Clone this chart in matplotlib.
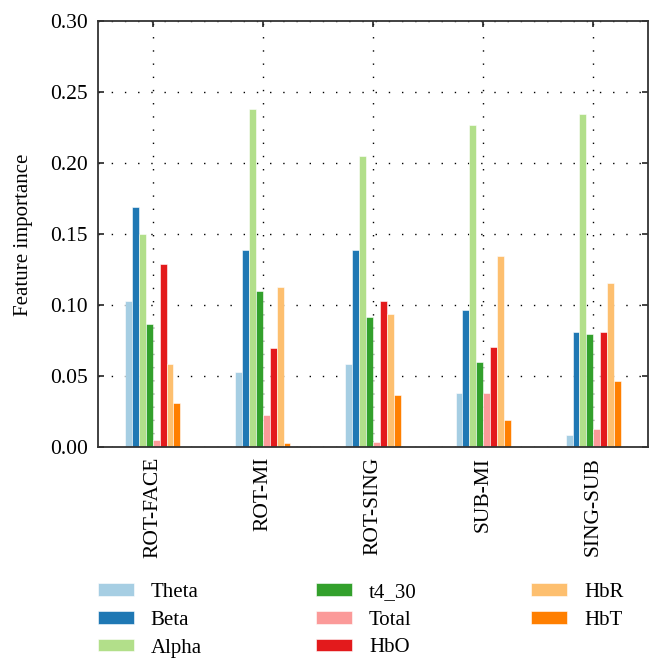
import numpy as np
import pandas as pd
import matplotlib
matplotlib.use("Agg")
import matplotlib.pyplot as plt

# Data
comparisons = ["ROT-FACE", "ROT-MI", "ROT-SING", "SUB-MI", "SING-SUB"]
features = ["Theta", "Beta", "Alpha", "t4_30", "Total", "HbO", "HbR", "HbT"]

theta = [0.103, 0.053, 0.059, 0.038, 0.009]
beta = [0.169, 0.139, 0.139, 0.097, 0.081]
alpha = [0.150, 0.238, 0.205, 0.227, 0.235]
t4_30 = [0.087, 0.110, 0.092, 0.060, 0.080]
total = [0.005, 0.023, 0.004, 0.038, 0.013]
hbo = [0.129, 0.070, 0.103, 0.071, 0.081]
hbr = [0.059, 0.113, 0.094, 0.135, 0.116]
hbt = [0.031, 0.003, 0.037, 0.019, 0.047]

colors = ["#a6cee3", "#1f78b4", "#b2df8a", "#33a02c",
          "#fb9a99", "#e31a1c", "#fdbf6f", "#ff7f00"]

df = pd.DataFrame({
    "Theta": theta, "Beta": beta, "Alpha": alpha, "t4_30": t4_30,
    "Total": total, "HbO": hbo, "HbR": hbr, "HbT": hbt,
}, index=comparisons)

plt.rcParams["font.family"] = ["Liberation Serif", "DejaVu Serif"]

fig = plt.figure(figsize=(6.63, 6.71), dpi=100)
ax = fig.add_axes([0.1474, 0.3334, 0.8304, 0.6346])

n = len(features)
width = 0.5 / n
x = np.arange(len(comparisons))
for i, name in enumerate(features):
    ax.bar(x - 0.25 + width * (i + 0.5), df[name], width,
           color=colors[i], edgecolor="white", linewidth=0.4, label=name)

ax.set_xlim(-0.5, 4.5)
ax.set_ylim(0, 0.30)
yt = np.arange(0, 0.31, 0.05)
ax.set_yticks(yt)
ax.set_yticklabels([f"{v:.2f}" for v in yt])
ax.set_xticks(x)
ax.set_xticklabels(comparisons, rotation=90)
ax.set_ylabel("Feature importance", fontsize=15, labelpad=12)
ax.tick_params(axis="both", which="both", direction="in", top=True, right=True,
               length=4, width=1.2, labelsize=15.5, pad=7, color="#222222")

ax.set_axisbelow(True)
ax.grid(True, linestyle=(0, (1, 8.5)), color="black", linewidth=1.0)
for s in ax.spines.values():
    s.set_color("#333333")
    s.set_linewidth(1.3)

fig.legend(*ax.get_legend_handles_labels(), loc="upper left",
           bbox_to_anchor=(98 / 663, 1 - 583 / 671), ncol=3,
           frameon=False, fontsize=15, handlelength=1.73, handleheight=0.55,
           columnspacing=5.5, labelspacing=0.42, handletextpad=0.8,
           borderpad=0, borderaxespad=0)

fig.savefig("out.png", dpi=100)
